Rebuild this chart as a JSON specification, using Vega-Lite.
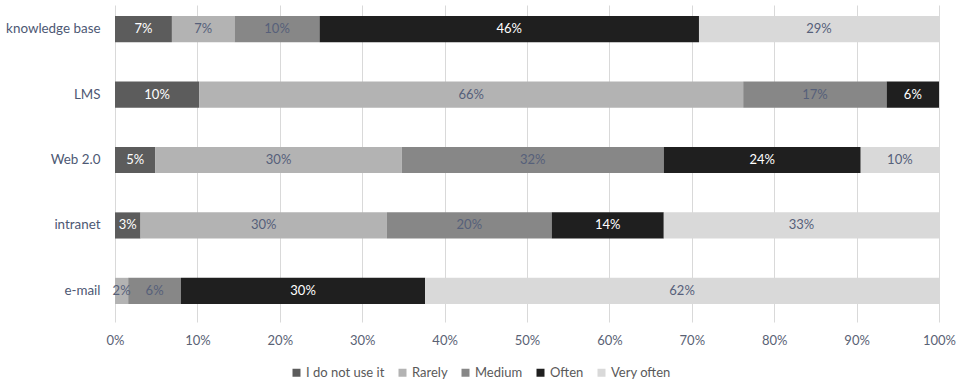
{
  "$schema": "https://vega.github.io/schema/vega-lite/v6.json",
  "autosize": "none",
  "width": 824,
  "height": 317,
  "padding": {"left": 115, "top": 5, "right": 19, "bottom": 59},
  "background": "#ffffff",
  "config": {
    "view": {"stroke": null},
    "font": "Lato"
  },
  "data": {
    "values": [
      {"category": "knowledge base", "series": "I do not use it", "order": 1, "value": 6.9, "label": "7%"},
      {"category": "knowledge base", "series": "Rarely", "order": 2, "value": 7.6, "label": "7%"},
      {"category": "knowledge base", "series": "Medium", "order": 3, "value": 10.3, "label": "10%"},
      {"category": "knowledge base", "series": "Often", "order": 4, "value": 46.0, "label": "46%"},
      {"category": "knowledge base", "series": "Very often", "order": 5, "value": 29.1, "label": "29%"},
      {"category": "LMS", "series": "I do not use it", "order": 1, "value": 10.2, "label": "10%"},
      {"category": "LMS", "series": "Rarely", "order": 2, "value": 66.0, "label": "66%"},
      {"category": "LMS", "series": "Medium", "order": 3, "value": 17.4, "label": "17%"},
      {"category": "LMS", "series": "Often", "order": 4, "value": 6.35, "label": "6%"},
      {"category": "Web 2.0", "series": "I do not use it", "order": 1, "value": 4.9, "label": "5%"},
      {"category": "Web 2.0", "series": "Rarely", "order": 2, "value": 29.9, "label": "30%"},
      {"category": "Web 2.0", "series": "Medium", "order": 3, "value": 31.8, "label": "32%"},
      {"category": "Web 2.0", "series": "Often", "order": 4, "value": 23.9, "label": "24%"},
      {"category": "Web 2.0", "series": "Very often", "order": 5, "value": 9.5, "label": "10%"},
      {"category": "intranet", "series": "I do not use it", "order": 1, "value": 3.1, "label": "3%"},
      {"category": "intranet", "series": "Rarely", "order": 2, "value": 29.9, "label": "30%"},
      {"category": "intranet", "series": "Medium", "order": 3, "value": 20.0, "label": "20%"},
      {"category": "intranet", "series": "Often", "order": 4, "value": 13.6, "label": "14%"},
      {"category": "intranet", "series": "Very often", "order": 5, "value": 33.4, "label": "33%"},
      {"category": "e-mail", "series": "Rarely", "order": 2, "value": 1.6, "label": "2%"},
      {"category": "e-mail", "series": "Medium", "order": 3, "value": 6.4, "label": "6%"},
      {"category": "e-mail", "series": "Often", "order": 4, "value": 29.6, "label": "30%"},
      {"category": "e-mail", "series": "Very often", "order": 5, "value": 62.3, "label": "62%"}
    ]
  },
  "transform": [
    {"stack": "value", "groupby": ["category"], "sort": [{"field": "order"}], "as": ["x0", "x1"], "offset": "normalize"},
    {"calculate": "(datum.x0 + datum.x1) / 2", "as": "xmid"}
  ],
  "encoding": {
    "y": {
      "field": "category",
      "type": "nominal",
      "sort": ["knowledge base", "LMS", "Web 2.0", "intranet", "e-mail"],
      "scale": {"paddingInner": 0.6, "paddingOuter": 0.222, "align": 0.38},
      "axis": {
        "title": null,
        "domain": false,
        "ticks": false,
        "labelPadding": 15,
        "labelFontSize": 13.4,
        "labelColor": "#4d5873",
        "labelFont": "Lato"
      }
    }
  },
  "layer": [
    {
      "mark": {"type": "bar"},
      "encoding": {
        "x": {
          "field": "x0",
          "type": "quantitative",
          "scale": {"domain": [0, 1], "nice": false},
          "axis": {
            "title": null,
            "format": ".0%",
            "values": [0, 0.1, 0.2, 0.3, 0.4, 0.5, 0.6, 0.7, 0.8, 0.9, 1],
            "grid": true,
            "gridColor": "#d9d9d9",
            "gridWidth": 1,
            "domain": false,
            "ticks": false,
            "labelPadding": 12,
            "labelFontSize": 13,
            "labelColor": "#5a6275",
            "labelFont": "Lato",
            "labelFlush": false
          }
        },
        "x2": {"field": "x1"},
        "color": {
          "field": "series",
          "type": "nominal",
          "scale": {
            "domain": ["I do not use it", "Rarely", "Medium", "Often", "Very often"],
            "range": ["#5c5c5c", "#b3b3b3", "#878787", "#1f1f1f", "#d9d9d9"]
          },
          "legend": {
            "title": null,
            "orient": "none",
            "direction": "horizontal",
            "legendX": 175,
            "legendY": 361,
            "symbolType": "square",
            "symbolSize": 64,
            "symbolStrokeWidth": 0,
            "labelFontSize": 13,
            "labelColor": "#595959",
            "labelFont": "Lato",
            "labelOffset": 3,
            "columnPadding": 11
          }
        }
      }
    },
    {
      "mark": {"type": "text", "fontSize": 13, "font": "Lato", "align": "center", "baseline": "middle"},
      "encoding": {
        "x": {"field": "xmid", "type": "quantitative"},
        "text": {"field": "label"},
        "color": {
          "condition": {"test": "datum.series === 'I do not use it' || datum.series === 'Often'", "value": "#ffffff"},
          "value": "#56607a"
        }
      }
    }
  ]
}
